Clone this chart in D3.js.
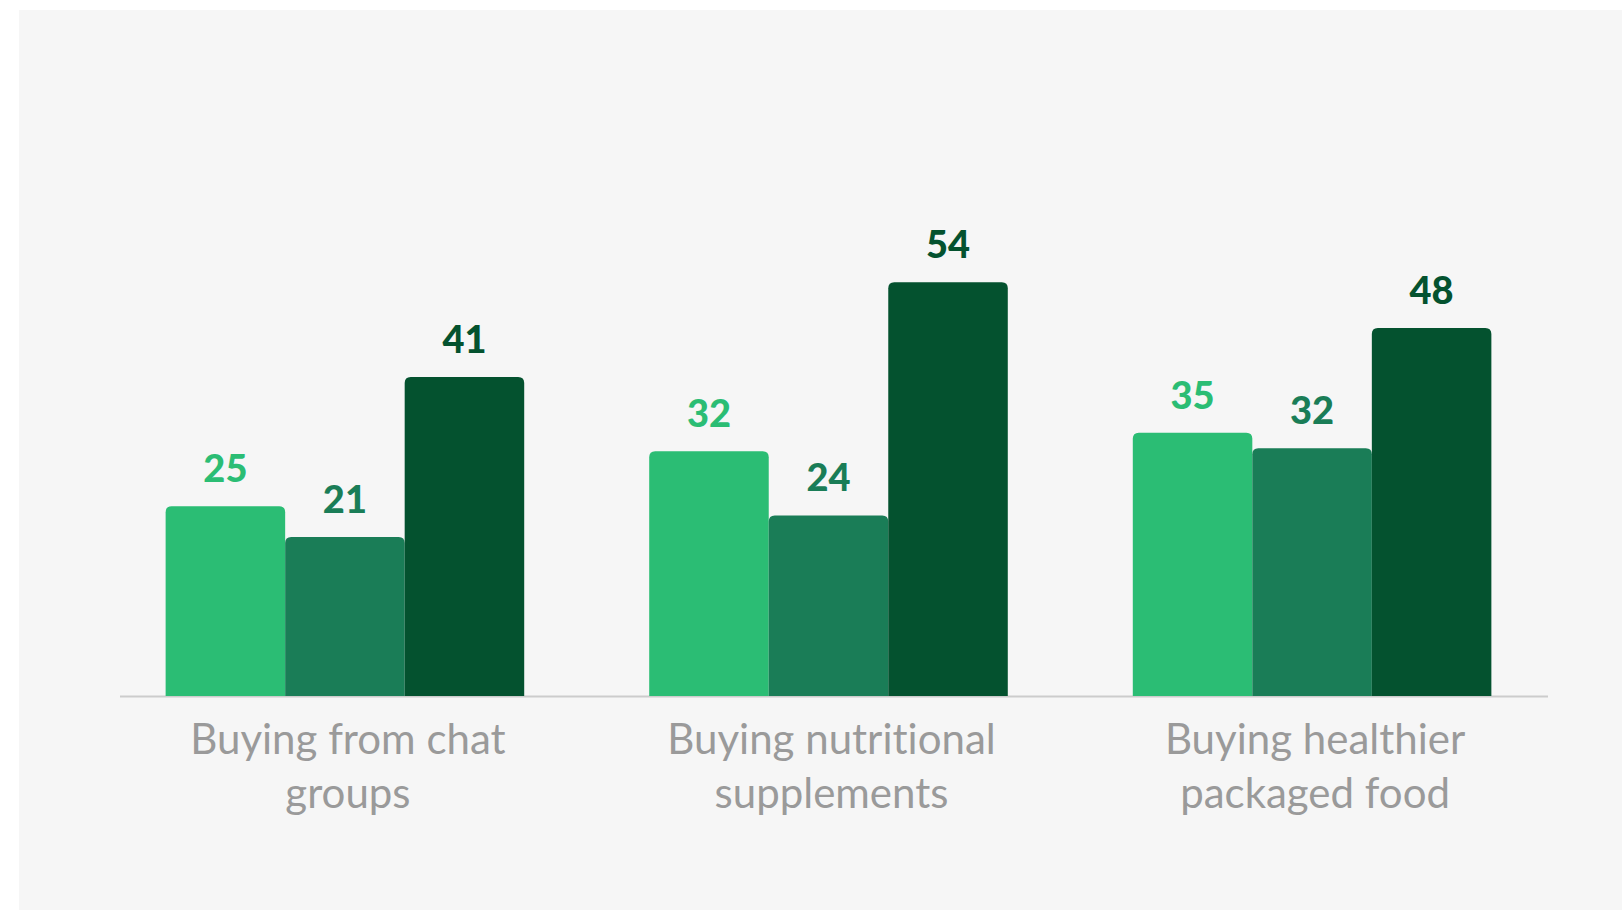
<!DOCTYPE html>
<html>
<head>
<meta charset="utf-8">
<script src="https://cdn.jsdelivr.net/npm/d3@7"></script>
<style>
  html, body { margin: 0; padding: 0; background: #ffffff; }
  svg { display: block; }
  text { font-variant-ligatures: none; font-feature-settings: "liga" 0, "clig" 0; }
</style>
</head>
<body>
<svg id="chart" width="1622" height="911"></svg>
<script>
// ---- data ----
const categories = [["Buying from chat", "groups"], ["Buying nutritional", "supplements"], ["Buying healthier", "packaged food"]];
const seriesNames = ["s1", "s2", "s3"];
const series1 = [24.8, 32.0, 34.4];   // bar heights
const series2 = [20.8, 23.6, 32.4];
const series3 = [41.7, 54.1, 48.1];
const labels1 = [25, 32, 35];
const labels2 = [21, 24, 32];
const labels3 = [41, 54, 48];
const colors = ["#2bbd74", "#1a7d57", "#04522f"];

const W = 1622, H = 911;
const svg = d3.select("#chart");

svg.append("rect").attr("x", 19).attr("y", 10).attr("width", W - 19).attr("height", 900).attr("fill", "#f6f6f6");

const baseline = 696;
const y = d3.scaleLinear().domain([0, 60]).range([baseline, baseline - 60 * 7.65]);
const x0 = d3.scaleBand().domain(d3.range(categories.length)).range([103.25, 1553.75]).paddingInner(0.2585).paddingOuter(0.129);
const x1 = d3.scaleBand().domain(seriesNames).range([0, x0.bandwidth()]).padding(0);

const values = [series1, series2, series3];
const labs = [labels1, labels2, labels3];

const data = [];
categories.forEach((c, i) => {
  seriesNames.forEach((s, j) => {
    data.push({ cat: i, s: s, j: j, v: values[j][i], lab: labs[j][i] });
  });
});

function topRounded(x, yTop, w, h, r) {
  return `M${x},${yTop + h} L${x},${yTop + r} Q${x},${yTop} ${x + r},${yTop} L${x + w - r},${yTop} Q${x + w},${yTop} ${x + w},${yTop + r} L${x + w},${yTop + h} Z`;
}

// axis line
svg.append("line").attr("x1", 120).attr("x2", 1548).attr("y1", baseline + 0.5).attr("y2", baseline + 0.5)
  .attr("stroke", "#cccccc").attr("stroke-width", 2);

const g = svg.append("g");
g.selectAll("path.bar").data(data).join("path").attr("class", "bar")
  .attr("d", d => {
    const bx = x0(d.cat) + x1(d.s);
    const yt = y(d.v);
    return topRounded(bx, yt, x1.bandwidth(), baseline - yt, 6);
  })
  .attr("fill", d => colors[d.j]);

g.selectAll("text.val").data(data).join("text").attr("class", "val")
  .attr("x", d => x0(d.cat) + x1(d.s) + x1.bandwidth() / 2)
  .attr("y", d => y(d.v) - 24)
  .attr("text-anchor", "middle")
  .attr("font-family", "Lato, 'Open Sans', sans-serif")
  .attr("font-weight", 900)
  .attr("font-size", 38)
  .attr("fill", d => colors[d.j])
  .text(d => d.lab);

// category labels
const cl = svg.append("g").selectAll("text").data(categories).join("text")
  .attr("x", (d, i) => x0(i) + x0.bandwidth() / 2 + 3)
  .attr("text-anchor", "middle")
  .attr("font-family", "Lato, 'Open Sans', sans-serif")
  .attr("font-size", 42)
  .attr("fill", "#9a9a9a");
cl.each(function (d) {
  const t = d3.select(this);
  d.forEach((line, k) => {
    t.append("tspan").attr("x", t.attr("x")).attr("y", 754 + k * 54).text(line);
  });
});
</script>
</body>
</html>
